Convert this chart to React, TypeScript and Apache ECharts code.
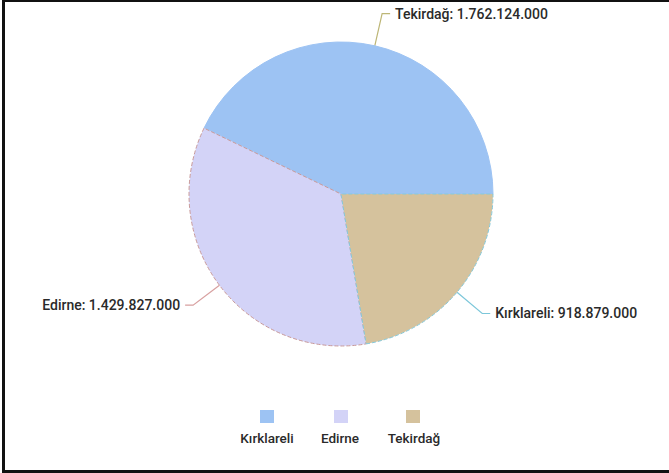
import React, { useEffect, useRef } from "react";
import * as echarts from "echarts";

const provinces = ["Tekirdağ", "Edirne", "Kırklareli"];
const values = [1762124000, 1429827000, 918879000];
const sliceColors = ["#9dc3f3", "#d3d3f7", "#d5c29d"];
const sliceBorders = ["#9dc3f3", "#c99a9a", "#86c9db"];
const lineColors = ["#bdb676", "#d8a0a0", "#7cc7da"];

const legendNames = ["Kırklareli", "Edirne", "Tekirdağ"];
const legendColors = ["#9dc3f3", "#d3d3f7", "#d5c29d"];
const legendIconLeft = [260, 334, 406];
const legendTextX = [267, 340, 414];

function fmt(v: number): string {
  return String(v).replace(/\B(?=(\d{3})+(?!\d))/g, ".");
}

export default function App() {
  const ref = useRef<HTMLDivElement>(null);
  useEffect(() => {
    if (!ref.current) return;
    const chart = echarts.init(ref.current, null, { renderer: "svg" });
    const font = "Roboto, 'Noto Sans', sans-serif";
    chart.setOption({
      animation: false,
      backgroundColor: "#ffffff",
      legend: legendNames.map((n, i) => ({
        data: [{ name: n, itemStyle: { color: legendColors[i], borderWidth: 0 } }],
        left: legendIconLeft[i],
        top: 410,
        icon: "rect",
        itemWidth: 14,
        itemHeight: 13,
        padding: 0,
        selectedMode: false,
        formatter: () => "",
        textStyle: { fontSize: 1 },
      })),
      graphic: legendNames.map((n, i) => ({
        type: "text",
        x: legendTextX[i],
        y: 438,
        style: {
          text: n,
          fill: "#2a2a2a",
          font: `500 13.5px ${font}`,
          textAlign: "center",
          textVerticalAlign: "middle",
        },
      })),
      series: [
        {
          type: "pie",
          center: [341, 194],
          radius: 152,
          startAngle: 0,
          clockwise: false,
          label: {
            show: true,
            formatter: (p: any) => `${p.name}: ${fmt(p.value)}`,
            color: "#2a2a2a",
            fontSize: 14,
            fontWeight: 500,
            fontFamily: font,
          },
          labelLine: { show: true, length: 33, length2: 8 },
          emphasis: { disabled: true },
          data: provinces.map((n, i) => ({
            name: n,
            value: values[i],
            itemStyle: {
              color: sliceColors[i],
              borderColor: sliceBorders[i],
              borderWidth: 1,
              borderType: i === 0 ? "solid" : "dashed",
            },
            labelLine: { lineStyle: { color: lineColors[i], width: 1.2 } },
          })),
        },
      ],
    });
    return () => chart.dispose();
  }, []);
  return (
    <div
      style={{
        position: "absolute",
        left: 0,
        top: 0,
        width: 669,
        height: 473,
        overflow: "hidden",
        background: "#fff",
      }}
    >
      <div ref={ref} style={{ position: "absolute", left: 0, top: 0, width: 669, height: 473 }} />
      <div
        style={{
          position: "absolute",
          left: 2,
          top: 0,
          width: 720,
          height: 473,
          boxSizing: "border-box",
          borderTop: "2px solid #111",
          borderLeft: "3px solid #111",
          borderBottom: "3px solid #111",
          pointerEvents: "none",
        }}
      />
    </div>
  );
}
